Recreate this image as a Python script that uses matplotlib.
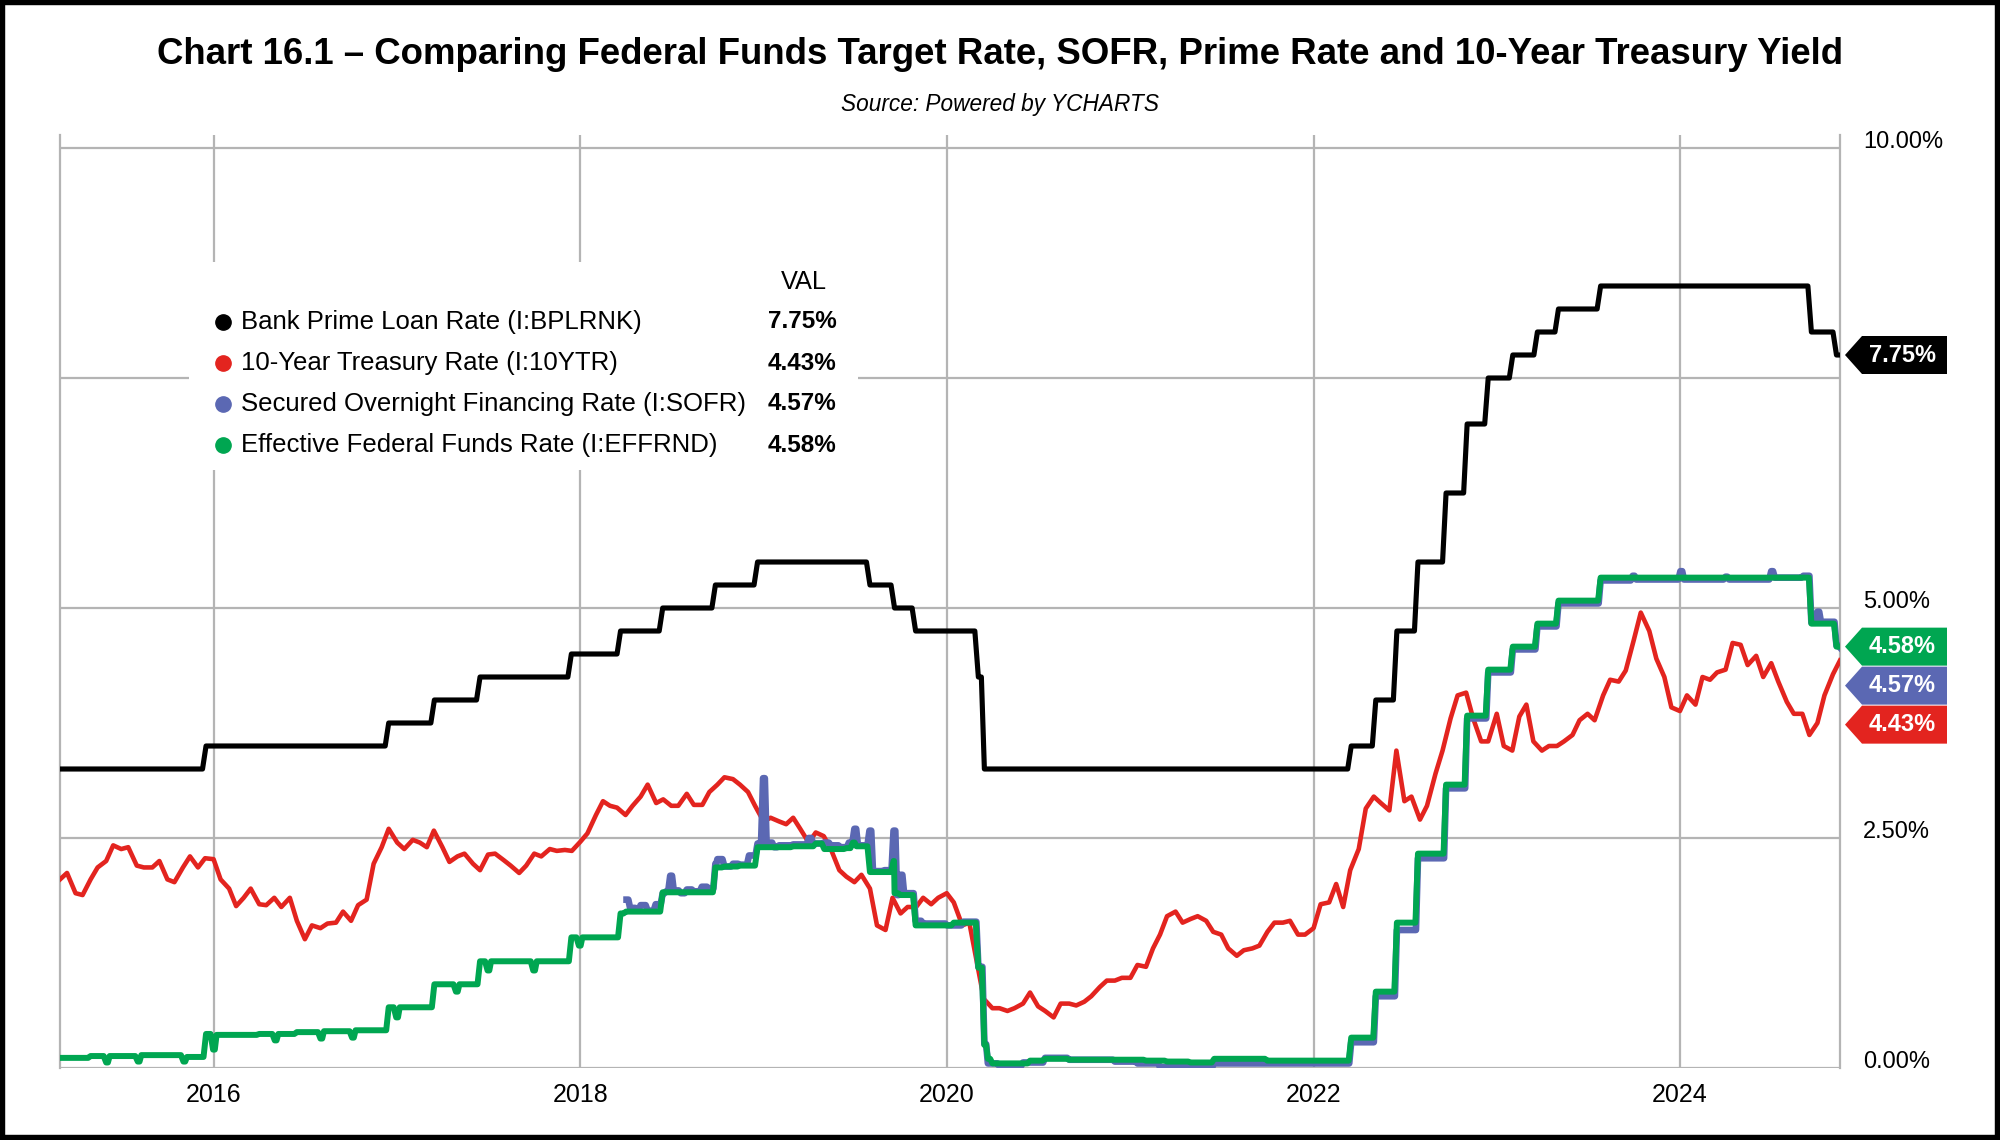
import matplotlib
matplotlib.use("Agg")

import pandas as pd
import matplotlib.pyplot as plt
import matplotlib.dates as mdates

from matplotlib import font_manager
from matplotlib.patches import Polygon, Rectangle
from matplotlib.transforms import ScaledTranslation

plt.rcParams["font.family"] = ["Liberation Sans", "DejaVu Sans"]

names = {f.name for f in font_manager.fontManager.ttflist}
NARROW = "Liberation Sans Narrow" if "Liberation Sans Narrow" in names else "Liberation Sans"

BLACK = "#000000"
RED = "#e3241f"
BLUE = "#5b68b3"
GREEN = "#00a651"
GRID = "#b4b4b4"

START = "2015-03-01"
END = "2024-11-15"

# Bank prime loan rate, change dates and new levels
prime_dates = ["2015-03-01", "2015-12-17", "2016-12-15", "2017-03-16", "2017-06-15",
               "2017-12-14", "2018-03-22", "2018-06-14", "2018-09-27", "2018-12-20",
               "2019-08-01", "2019-09-19", "2019-10-31", "2020-03-04", "2020-03-16",
               "2022-03-17", "2022-05-05", "2022-06-16", "2022-07-28", "2022-09-22",
               "2022-11-03", "2022-12-15", "2023-02-02", "2023-03-23", "2023-05-04",
               "2023-07-27", "2024-09-19", "2024-11-08"]
prime_vals = [3.25, 3.50, 3.75, 4.00, 4.25, 4.50, 4.75, 5.00, 5.25, 5.50,
              5.25, 5.00, 4.75, 4.25, 3.25, 3.50, 4.00, 4.75, 5.50, 6.25,
              7.00, 7.50, 7.75, 8.00, 8.25, 8.50, 8.00, 7.75]

# effective fed funds rate
effr_dates = ["2015-03-01", "2015-05-01", "2015-06-01", "2015-06-08", "2015-08-03",
              "2015-08-10", "2015-09-15", "2015-11-02", "2015-11-09", "2015-12-17",
              "2015-12-31", "2016-01-07", "2016-04-01", "2016-05-02", "2016-05-09",
              "2016-06-15", "2016-08-01", "2016-08-08", "2016-10-03", "2016-10-10",
              "2016-12-15", "2016-12-30", "2017-01-06", "2017-03-16", "2017-04-28",
              "2017-05-05", "2017-06-15", "2017-06-30", "2017-07-07", "2017-09-29",
              "2017-10-06", "2017-12-14", "2017-12-29", "2018-01-05", "2018-03-22",
              "2018-04-02", "2018-06-14", "2018-09-27", "2018-10-15", "2018-11-15",
              "2018-12-20", "2019-03-01", "2019-04-15", "2019-05-02", "2019-06-15",
              "2019-06-28", "2019-07-05", "2019-08-01", "2019-09-17", "2019-09-19",
              "2019-10-01", "2019-10-31", "2020-01-02", "2020-01-15", "2020-03-04",
              "2020-03-16", "2020-03-23", "2020-04-01", "2020-06-15", "2020-07-15",
              "2020-09-01", "2021-02-01", "2021-03-15", "2021-05-01", "2021-06-17",
              "2021-07-01", "2021-10-01", "2022-03-17", "2022-05-05", "2022-06-16",
              "2022-07-28", "2022-09-22", "2022-11-03", "2022-12-15", "2023-02-02",
              "2023-03-23", "2023-05-04", "2023-07-27", "2024-09-19", "2024-11-08"]
effr_vals = [0.11, 0.13, 0.06, 0.13, 0.07, 0.14, 0.14, 0.07, 0.12, 0.37,
             0.20, 0.36, 0.37, 0.30, 0.37, 0.39, 0.32, 0.40, 0.33, 0.41,
             0.66, 0.55, 0.66, 0.91, 0.83, 0.91, 1.16, 1.06, 1.16, 1.06,
             1.16, 1.42, 1.33, 1.42, 1.68, 1.70, 1.91, 2.18, 2.19, 2.20,
             2.40, 2.41, 2.44, 2.38, 2.39, 2.45, 2.41, 2.13, 2.25, 1.90,
             1.88, 1.55, 1.55, 1.58, 1.09, 0.25, 0.10, 0.05, 0.08, 0.10,
             0.09, 0.08, 0.07, 0.06, 0.10, 0.10, 0.08, 0.33, 0.83, 1.58,
             2.33, 3.08, 3.83, 4.33, 4.58, 4.83, 5.08, 5.33, 4.83, 4.58]

# secured overnight financing rate (starts April 2018)
sofr_dates = ["2018-04-03", "2018-04-10", "2018-04-24", "2018-05-01", "2018-05-15",
              "2018-05-31", "2018-06-14", "2018-06-21", "2018-06-29", "2018-07-06",
              "2018-07-20", "2018-08-01", "2018-08-15", "2018-08-31", "2018-09-14",
              "2018-09-27", "2018-10-01", "2018-10-15", "2018-11-01", "2018-11-15",
              "2018-12-03", "2018-12-20", "2018-12-31", "2019-01-07", "2019-01-22",
              "2019-02-01", "2019-03-01", "2019-04-01", "2019-04-10", "2019-05-01",
              "2019-05-15", "2019-06-03", "2019-06-20", "2019-07-01", "2019-07-08",
              "2019-07-31", "2019-08-07", "2019-08-30", "2019-09-17", "2019-09-24",
              "2019-10-01", "2019-10-08", "2019-10-31", "2019-11-15", "2020-01-02",
              "2020-02-03", "2020-03-04", "2020-03-16", "2020-03-23", "2020-04-15",
              "2020-06-01", "2020-07-15", "2020-09-01", "2020-10-15", "2020-12-01",
              "2021-01-15", "2021-03-01", "2021-05-01", "2021-06-17", "2021-08-01",
              "2021-10-01", "2021-12-01", "2022-01-15", "2022-03-17", "2022-05-05",
              "2022-06-16", "2022-07-28", "2022-09-22", "2022-11-03", "2022-12-15",
              "2023-02-02", "2023-03-23", "2023-05-04", "2023-07-27", "2023-09-29",
              "2023-10-06", "2024-01-02", "2024-01-09", "2024-04-01", "2024-04-08",
              "2024-07-01", "2024-07-08", "2024-09-03", "2024-09-19", "2024-10-01",
              "2024-10-08", "2024-11-08", "2024-11-15"]
sofr_vals = [1.83, 1.74, 1.72, 1.77, 1.71, 1.78, 1.90, 1.92, 2.09, 1.93,
             1.90, 1.94, 1.92, 1.97, 1.95, 2.22, 2.27, 2.19, 2.22, 2.21,
             2.31, 2.44, 3.15, 2.45, 2.40, 2.42, 2.43, 2.50, 2.44, 2.45,
             2.42, 2.40, 2.45, 2.60, 2.42, 2.58, 2.14, 2.15, 2.58, 1.88,
             2.10, 1.90, 1.60, 1.57, 1.55, 1.59, 1.10, 0.26, 0.05, 0.02,
             0.06, 0.11, 0.09, 0.09, 0.07, 0.05, 0.01, 0.01, 0.05, 0.05,
             0.05, 0.05, 0.05, 0.28, 0.78, 1.50, 2.28, 3.04, 3.80, 4.30,
             4.55, 4.80, 5.05, 5.30, 5.35, 5.31, 5.40, 5.31, 5.34, 5.31,
             5.40, 5.33, 5.35, 4.84, 4.96, 4.85, 4.59, 4.57]

# 10-year treasury, read on the 1st and 15th of each month
t10_2015 = [2.05, 2.12, 1.90, 1.88, 2.05, 2.18, 2.25, 2.42, 2.38, 2.40,
            2.20, 2.18, 2.18, 2.25, 2.05, 2.02, 2.18, 2.30, 2.18, 2.28]
t10_2016 = [2.27, 2.05, 1.95, 1.76, 1.85, 1.95, 1.78, 1.77, 1.85, 1.75, 1.85, 1.60,
            1.40, 1.55, 1.52, 1.57, 1.58, 1.70, 1.60, 1.77, 1.83, 2.22, 2.40, 2.60]
t10_2017 = [2.45, 2.38, 2.48, 2.45, 2.40, 2.58, 2.40, 2.24, 2.30, 2.33, 2.22, 2.15,
            2.32, 2.33, 2.26, 2.20, 2.12, 2.20, 2.33, 2.30, 2.38, 2.36, 2.37, 2.36]
t10_2018 = [2.46, 2.55, 2.75, 2.90, 2.85, 2.83, 2.75, 2.85, 2.95, 3.08, 2.88, 2.92,
            2.85, 2.85, 2.98, 2.86, 2.86, 3.00, 3.08, 3.16, 3.14, 3.08, 3.00, 2.85]
t10_2019 = [2.68, 2.72, 2.68, 2.65, 2.72, 2.60, 2.45, 2.56, 2.52, 2.38, 2.15, 2.08,
            2.02, 2.10, 1.95, 1.55, 1.50, 1.85, 1.68, 1.75, 1.75, 1.85, 1.78, 1.85]
t10_2020 = [1.90, 1.80, 1.55, 1.58, 1.15, 0.75, 0.65, 0.65, 0.62, 0.65, 0.70, 0.82,
            0.67, 0.62, 0.55, 0.70, 0.70, 0.68, 0.72, 0.78, 0.88, 0.95, 0.95, 0.98]
t10_2021 = [0.98, 1.12, 1.10, 1.30, 1.45, 1.65, 1.70, 1.58, 1.62, 1.65, 1.60, 1.48,
            1.45, 1.30, 1.22, 1.28, 1.30, 1.33, 1.48, 1.58, 1.58, 1.60, 1.45, 1.45]
t10_2022 = [1.52, 1.78, 1.80, 2.00, 1.75, 2.15, 2.38, 2.82, 2.95, 2.88, 2.80, 3.45,
            2.90, 2.95, 2.70, 2.85, 3.20, 3.45, 3.80, 4.05, 4.08, 3.80, 3.55, 3.55]
t10_2023 = [3.85, 3.50, 3.45, 3.82, 3.95, 3.55, 3.45, 3.50, 3.50, 3.55, 3.62, 3.78,
            3.85, 3.78, 4.05, 4.22, 4.20, 4.32, 4.65, 4.95, 4.75, 4.45, 4.25, 3.92]
t10_2024 = [3.88, 4.05, 3.95, 4.25, 4.22, 4.30, 4.33, 4.62, 4.60, 4.38, 4.48, 4.25,
            4.40, 4.20, 3.98, 3.85, 3.85, 3.62, 3.75, 4.05, 4.28, 4.43]

legend_names = ["Bank Prime Loan Rate (I:BPLRNK)",
                "10-Year Treasury Rate (I:10YTR)",
                "Secured Overnight Financing Rate (I:SOFR)",
                "Effective Federal Funds Rate (I:EFFRND)"]
legend_colors = [BLACK, RED, BLUE, GREEN]
last_vals = [7.75, 4.43, 4.57, 4.58]

y_ticks = [0, 2.5, 5, 7.5, 10]
# the 7.50% label sits under the prime rate tag in the original, so it is left blank
y_labels = ["0.00%", "2.50%", "5.00%", "", "10.00%"]


def step_line(dates, vals, end, lag=7):
    # weekly sampled step series: each change shows as a short slanted segment
    d = pd.to_datetime(dates)
    xs = [d[0]]
    ys = [vals[0]]
    for i in range(1, len(d)):
        gap = (d[i] - d[i - 1]).days
        lg = min(lag, gap / 2)
        xs.append(d[i] - pd.Timedelta(days=lg))
        ys.append(vals[i - 1])
        xs.append(d[i])
        ys.append(vals[i])
    if d[-1] < pd.Timestamp(end):
        xs.append(pd.Timestamp(end))
        ys.append(vals[-1])
    return xs, ys


t10_vals = (t10_2015 + t10_2016 + t10_2017 + t10_2018 + t10_2019 +
            t10_2020 + t10_2021 + t10_2022 + t10_2023 + t10_2024)
t10_dates = pd.date_range(START, END, freq="SMS")
assert len(t10_dates) == len(t10_vals)

fig = plt.figure(figsize=(20, 11.4), dpi=100)
ax = fig.add_axes([0.03, 72 / 1140, 0.89, 933 / 1140])

ax.set_xlim(pd.Timestamp(START), pd.Timestamp(END))
ax.set_ylim(0, 10 + 13 / 92)

ax.set_axisbelow(True)
ax.grid(True, color=GRID, linewidth=1.6)
for side in ["top", "bottom"]:
    ax.spines[side].set_visible(False)
for side in ["left", "right"]:
    ax.spines[side].set_color(GRID)
    ax.spines[side].set_linewidth(1.6)

ax.xaxis.set_major_locator(mdates.YearLocator(2))
ax.xaxis.set_major_formatter(mdates.DateFormatter("%Y"))
ax.set_yticks(y_ticks)
ax.set_yticklabels(y_labels)
ax.yaxis.tick_right()
ax.tick_params(axis="y", length=0, pad=16.5, labelsize=17)
ax.tick_params(axis="x", length=0, pad=10.8, labelsize=18)
for lab in ax.get_yticklabels():
    lab.set_horizontalalignment("left")
    lab.set_transform(lab.get_transform() + ScaledTranslation(0, 9 / 100, fig.dpi_scale_trans))

# series
px, py = step_line(prime_dates, prime_vals, END, lag=7)
ax.plot(px, py, color=BLACK, linewidth=3.7, zorder=3, solid_joinstyle="round")

ax.plot(t10_dates, t10_vals, color=RED, linewidth=3.3, zorder=4, solid_joinstyle="round")

sx, sy = step_line(sofr_dates, sofr_vals, END, lag=4)
ax.plot(sx, sy, color=BLUE, linewidth=4.8, zorder=5, solid_joinstyle="round")

ex, ey = step_line(effr_dates, effr_vals, END, lag=5)
ax.plot(ex, ey, color=GREEN, linewidth=4.3, zorder=6, solid_joinstyle="round")

# legend block
ax.add_patch(Rectangle((0.0725, 0.641), 0.3758, 0.223, transform=ax.transAxes,
                       facecolor="white", edgecolor="none", zorder=1.5))
ax.text(0.418, 0.8424, "VAL", transform=ax.transAxes, ha="center", va="center",
        fontsize=18.3, zorder=8)
row_y = [0.7996, 0.7556, 0.7117, 0.6677]
for name, col, val, yy in zip(legend_names, legend_colors, last_vals, row_y):
    ax.plot([0.0916], [yy], marker="o", markersize=11, color=col,
            transform=ax.transAxes, clip_on=False, zorder=8)
    ax.text(0.1017, yy, name, transform=ax.transAxes, ha="left", va="center",
            fontsize=18.5, zorder=8)
    ax.text(0.3978, yy, f"{val:.2f}%", transform=ax.transAxes, ha="left", va="center",
            fontsize=17.5, fontweight="bold", zorder=8)

# value tags on the right edge
to_fig = fig.transFigure.inverted()
x_edge = ax.transAxes.transform((1, 0))[0]
tags = sorted(zip(last_vals, legend_colors), key=lambda t: -t[0])
prev_top = None
half = 19
for val, col in tags:
    yc = ax.transData.transform((0, val))[1]
    if prev_top is not None and yc > prev_top - 2 * half - 1:
        yc = prev_top - 2 * half - 1
    prev_top = yc
    pts = [(x_edge + 5, yc), (x_edge + 22, yc + half), (x_edge + 107, yc + half),
           (x_edge + 107, yc - half), (x_edge + 22, yc - half)]
    pts = to_fig.transform(pts)
    fig.patches.append(Polygon(pts, closed=True, transform=fig.transFigure,
                               facecolor=col, edgecolor="none", zorder=5))
    tx, ty = to_fig.transform((x_edge + 62, yc))
    fig.text(tx, ty, f"{val:.2f}%", color="white", fontsize=17, fontweight="bold",
             ha="center", va="center", zorder=6)

# titles
title = fig.text(0.5, 1 - 54 / 1140,
                 "Chart 16.1 \u2013 Comparing Federal Funds Target Rate, SOFR, Prime Rate and 10-Year Treasury Yield",
                 family=[NARROW, "DejaVu Sans"], fontweight="bold", fontsize=34,
                 ha="center", va="center")
sub = fig.text(0.5, 1 - 105 / 1140, "Source: Powered by YCHARTS",
               family=[NARROW, "DejaVu Sans"], style="italic", fontsize=20,
               ha="center", va="center")

fig.canvas.draw()
w = title.get_window_extent().width
title.set_fontsize(34 * 1693 / w)
w = sub.get_window_extent().width
sub.set_fontsize(20 * 316 / w)

# outer frame
fig.patches.append(Rectangle((0, 0), 1, 1, transform=fig.transFigure, fill=False,
                             edgecolor="black", linewidth=7.5, zorder=10))

fig.savefig("out.png", dpi=100)
